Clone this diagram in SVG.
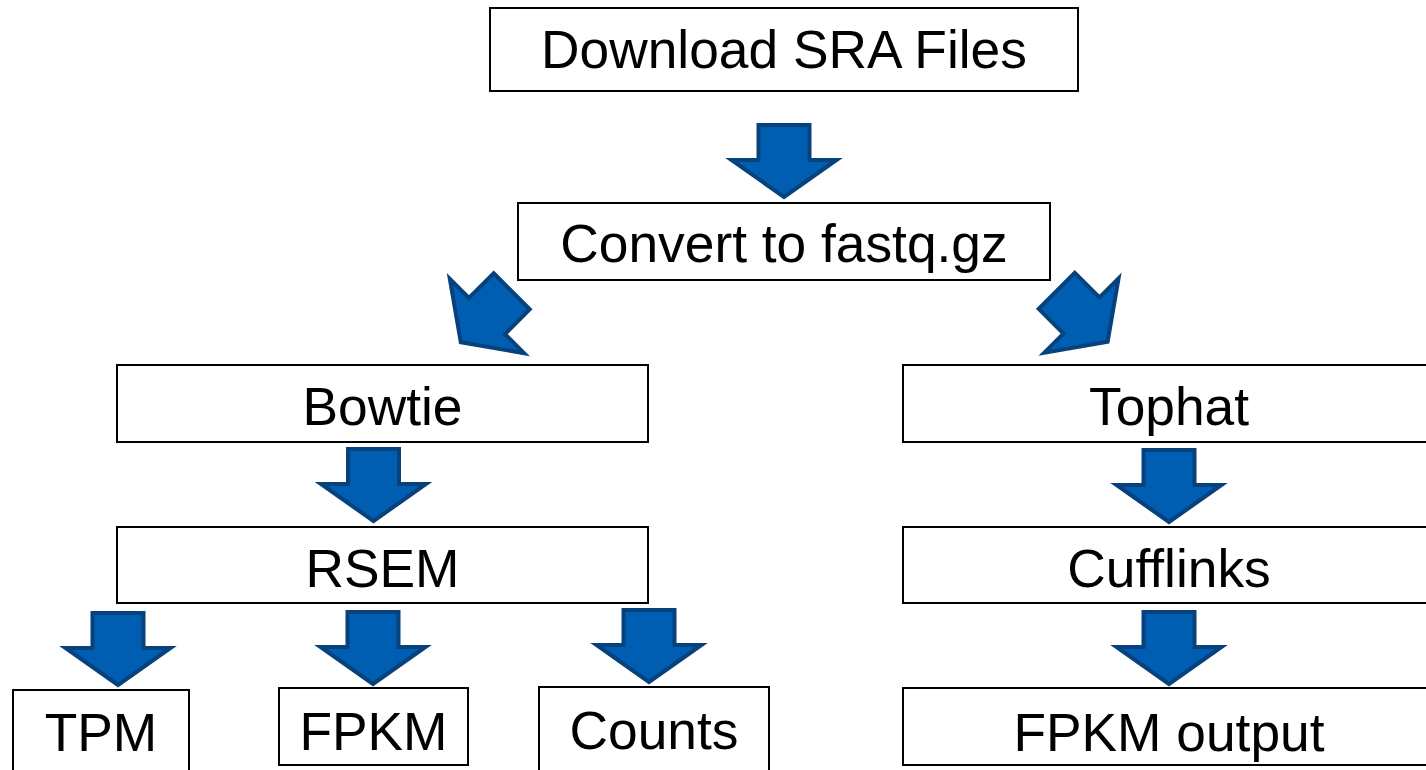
<svg xmlns="http://www.w3.org/2000/svg" width="1426" height="770" viewBox="0 0 1426 770">
<defs>
<style>
.box{fill:#fff;stroke:#000;stroke-width:2}
.lbl{font-family:"Liberation Sans",Arial,sans-serif;font-size:53.3px;fill:#000;text-anchor:middle}
.arr{fill:#005EB2;stroke:#07427D;stroke-width:4;stroke-linejoin:miter}
</style>
<path id="arrow" d="M -25.5 0 H 25.5 V 35 H 52.5 L 0 72 L -52.5 35 H -25.5 Z"/>
</defs>
<rect width="1426" height="770" fill="#fff"/>
<g id="connectors">
<use href="#arrow" class="arr" transform="translate(784,125)"/>
<use href="#arrow" class="arr" transform="translate(511.7,291.3) rotate(45)"/>
<use href="#arrow" class="arr" transform="translate(1056.7,290.8) rotate(-45)"/>
<use href="#arrow" class="arr" transform="translate(373.5,449)"/>
<use href="#arrow" class="arr" transform="translate(1169,450)"/>
<use href="#arrow" class="arr" transform="translate(118,613)"/>
<use href="#arrow" class="arr" transform="translate(373,612)"/>
<use href="#arrow" class="arr" transform="translate(649,610)"/>
<use href="#arrow" class="arr" transform="translate(1169,612)"/>
</g>
<g id="download"><rect class="box" x="490" y="8" width="588" height="83"/><text class="lbl" x="784" y="68">Download SRA Files</text></g>
<g id="convert"><rect class="box" x="518" y="203" width="532" height="77"/><text class="lbl" x="784" y="262">Convert to fastq.gz</text></g>
<g id="bowtie"><rect class="box" x="117" y="365" width="531" height="77"/><text class="lbl" x="382.5" y="425">Bowtie</text></g>
<g id="tophat"><rect class="box" x="903" y="365" width="531" height="77"/><text class="lbl" x="1169" y="425">Tophat</text></g>
<g id="rsem"><rect class="box" x="117" y="527" width="531" height="76"/><text class="lbl" x="382.5" y="587">RSEM</text></g>
<g id="cufflinks"><rect class="box" x="903" y="527" width="531" height="76"/><text class="lbl" x="1169" y="587">Cufflinks</text></g>
<g id="tpm"><rect class="box" x="13" y="690" width="176" height="90"/><text class="lbl" x="101" y="751">TPM</text></g>
<g id="fpkm"><rect class="box" x="279" y="688" width="189" height="77"/><text class="lbl" x="373.5" y="750">FPKM</text></g>
<g id="counts"><rect class="box" x="539" y="687" width="230" height="93"/><text class="lbl" x="654" y="749">Counts</text></g>
<g id="fpkm-output"><rect class="box" x="903" y="688" width="531" height="77"/><text class="lbl" x="1169" y="751">FPKM output</text></g>
</svg>
